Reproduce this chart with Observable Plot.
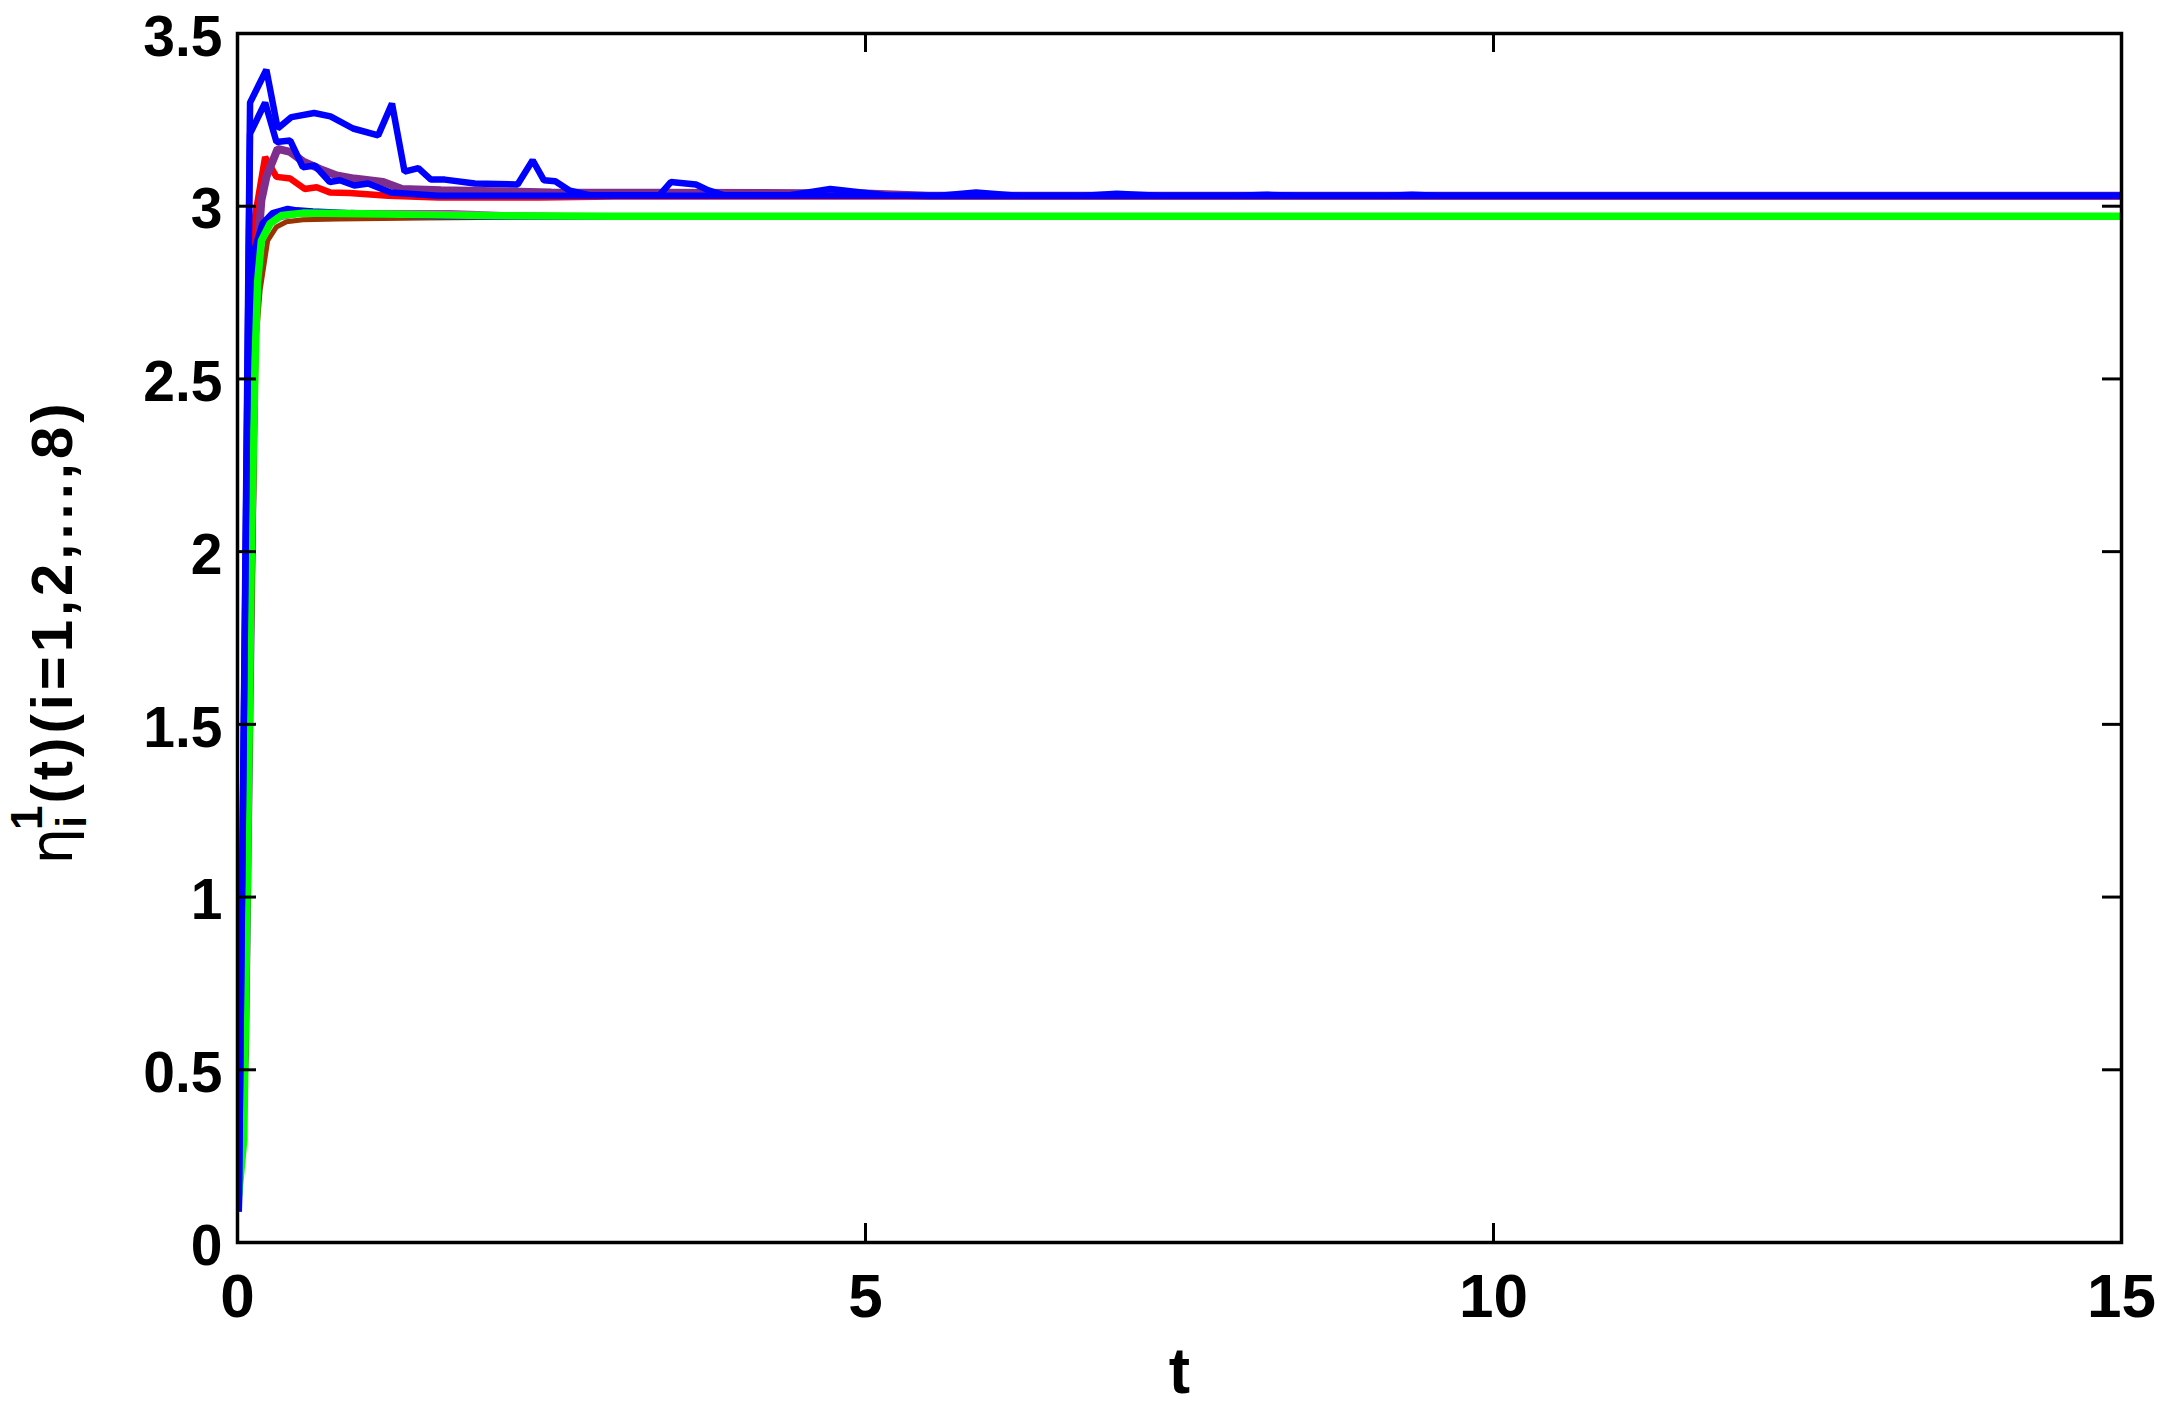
<!DOCTYPE html>
<html><head><meta charset="utf-8">
<script src="https://cdn.jsdelivr.net/npm/d3@7"></script>
<script src="https://cdn.jsdelivr.net/npm/@observablehq/plot@0.6"></script>
<style>body{margin:0;background:#fff}</style>
</head><body><div id="chart"></div>
<script>
// ---- axis data ----
const xTicks = [0, 5, 10, 15];
const xTickLabels = ["0", "5", "10", "15"];
const yTicks = [0, 0.5, 1, 1.5, 2, 2.5, 3, 3.5];
const yTickLabels = ["0", "0.5", "1", "1.5", "2", "2.5", "3", "3.5"];
const xLabel = "t";
const yLabelMain = "(t)(i=1,2,...,8)";

// ---- series ----
const tRed = [0, 0.06, 0.13, 0.22, 0.31, 0.42, 0.535, 0.63, 0.735, 0.89, 1.2, 1.6, 2.4, 3.0, 15];
const yRed = [0.1, 1.2, 2.95, 3.142, 3.085, 3.08, 3.05, 3.055, 3.04, 3.038, 3.03, 3.025, 3.025, 3.028, 3.028];

const tPurple = [0, 0.06, 0.135, 0.16, 0.19, 0.23, 0.32, 0.42, 0.52, 0.655, 0.79, 0.93, 1.16, 1.31, 1.62, 2.5, 5.0, 5.5, 15];
const yPurple = [0.1, 0.55, 2.62, 2.87, 3.017, 3.085, 3.166, 3.157, 3.13, 3.108, 3.089, 3.08, 3.07, 3.05, 3.046, 3.04, 3.037, 3.03, 3.03];

const tBrown = [0, 0.06, 0.1, 0.15, 0.18, 0.24, 0.31, 0.39, 0.52, 0.8, 1.5, 3, 15];
const yBrown = [0.1, 0.4, 1.5, 2.62, 2.756, 2.90, 2.94, 2.955, 2.961, 2.963, 2.966, 2.97, 2.97];

const tMagenta = [0, 0.06, 0.12, 0.18, 0.25, 0.5, 1.0, 1.7, 2.2, 3, 15];
const yMagenta = [0.1, 0.6, 2.5, 2.9, 2.96, 2.978, 2.982, 2.982, 2.975, 2.971, 2.971];

const tBlueC = [0.01, 0.09, 0.14, 0.2, 0.28, 0.4, 0.47, 0.6, 0.9, 1.3, 1.6, 2.2, 15];
const yBlueC = [0.09, 2.3, 2.88, 2.95, 2.98, 2.992, 2.988, 2.985, 2.98, 2.975, 2.972, 2.97, 2.97];

const tGreen = [0, 0.05, 0.08, 0.11, 0.14, 0.16, 0.19, 0.26, 0.35, 0.52, 1, 2, 3, 15];
const yGreen = [0.1, 0.3, 1.1, 2.0, 2.55, 2.78, 2.9, 2.95, 2.973, 2.98, 2.978, 2.973, 2.971, 2.971];

const tBlueB = [0.01, 0.10, 0.22, 0.31, 0.42, 0.52, 0.615, 0.735, 0.815, 0.93, 1.04, 1.22, 1.6, 3, 15];
const yBlueB = [0.09, 3.21, 3.30, 3.186, 3.19, 3.113, 3.118, 3.07, 3.075, 3.06, 3.066, 3.04, 3.03, 3.03, 3.03];

const tBlueA = [0.01, 0.10, 0.23, 0.32, 0.43, 0.61, 0.74, 0.92, 1.12, 1.23, 1.33, 1.44, 1.54, 1.65, 1.89, 2.23, 2.35, 2.44, 2.53, 2.64, 2.80, 3.36, 3.45, 3.65, 3.75, 3.87, 4.40, 4.72, 5.20, 5.59, 5.88, 6.23, 6.74, 7.0, 7.34, 7.95, 8.2, 8.46, 9.16, 9.35, 9.56, 15];
const yBlueA = [0.09, 3.30, 3.395, 3.225, 3.258, 3.27, 3.26, 3.225, 3.205, 3.297, 3.10, 3.11, 3.077, 3.077, 3.066, 3.063, 3.133, 3.075, 3.072, 3.046, 3.032, 3.032, 3.07, 3.063, 3.046, 3.032, 3.032, 3.05, 3.03, 3.03, 3.04, 3.03, 3.03, 3.036, 3.03, 3.03, 3.033, 3.03, 3.03, 3.033, 3.03, 3.03];

const series = [
  {t: tRed, y: yRed, color: "#ff0000", width: 6.5},
  {t: tPurple, y: yPurple, color: "#7e2f8e", width: 8},
  {t: tBrown, y: yBrown, color: "#993300", width: 5},
  {t: tMagenta, y: yMagenta, color: "#ff00ff", width: 5},
  {t: tBlueC, y: yBlueC, color: "#0000ff", width: 6.5},
  {t: tGreen, y: yGreen, color: "#00ff00", width: 7.5},
  {t: tBlueB, y: yBlueB, color: "#0000ff", width: 6.5},
  {t: tBlueA, y: yBlueA, color: "#0000ff", width: 6.5}
];

// ---- layout ----
const W = 2167, H = 1408;
const mL = 237, mR = 46, mT = 33, mB = 166;
const plotW = W - mL - mR, plotH = H - mT - mB;
const tickLen = 19;

const marks = [
  ...series.map(s => Plot.line(s.t.map((t, i) => ({t, v: s.y[i]})), {
    x: "t", y: "v", stroke: s.color, strokeWidth: s.width,
    strokeLinejoin: "miter", strokeLinecap: "butt", clip: true
  })),
  Plot.tickY(yTicks, {y: d => d, stroke: "black", strokeWidth: 3, insetRight: plotW - tickLen}),
  Plot.tickY(yTicks, {y: d => d, stroke: "black", strokeWidth: 3, insetLeft: plotW - tickLen}),
  Plot.tickX(xTicks, {x: d => d, stroke: "black", strokeWidth: 3, insetTop: plotH - tickLen}),
  Plot.tickX(xTicks, {x: d => d, stroke: "black", strokeWidth: 3, insetBottom: plotH - tickLen}),
  Plot.frame({stroke: "black", strokeWidth: 3.5}),
  Plot.axisX(xTicks, {tickSize: 0, tickPadding: 30, fontSize: 62, fontWeight: "bold",
    tickFormat: d => xTickLabels[xTicks.indexOf(d)], label: null}),
  Plot.axisY(yTicks, {tickSize: 0, tickPadding: 15, fontSize: 57, fontWeight: "bold", dy: 4,
    tickFormat: d => yTickLabels[yTicks.indexOf(d)], label: null}),
  Plot.text([xLabel], {frameAnchor: "bottom", lineAnchor: "bottom", dy: 150, fontSize: 64, fontWeight: "bold", fill: "black"})
];

const chart = Plot.plot({
  width: W, height: H,
  marginLeft: mL, marginRight: mR, marginTop: mT, marginBottom: mB,
  x: {domain: [0, 15]},
  y: {domain: [0, 3.5]},
  style: {fontFamily: "'Liberation Sans', Arial, sans-serif", fontWeight: "bold", background: "white", color: "black"},
  marks
});
document.getElementById("chart").appendChild(chart);

// y-axis label with sub/superscript
const svg = d3.select(chart);
const lab = svg.append("text")
  .attr("transform", `translate(72, 632) rotate(-90)`)
  .attr("text-anchor", "middle")
  .attr("font-family", "'Liberation Sans', Arial, sans-serif")
  .attr("font-size", 58)
  .attr("font-weight", "bold")
  .attr("fill", "black");
lab.append("tspan").attr("font-weight", "normal").attr("font-family", "'DejaVu Sans', sans-serif").attr("font-size", 58).text("η");
lab.append("tspan").attr("font-size", 42).attr("dy", 14).text("i");
lab.append("tspan").attr("font-size", 44).attr("dx", -14).attr("dy", -44).text("1");
lab.append("tspan").attr("dy", 30).attr("dx", 2).attr("letter-spacing", 4).text(yLabelMain);
</script>
</body></html>
